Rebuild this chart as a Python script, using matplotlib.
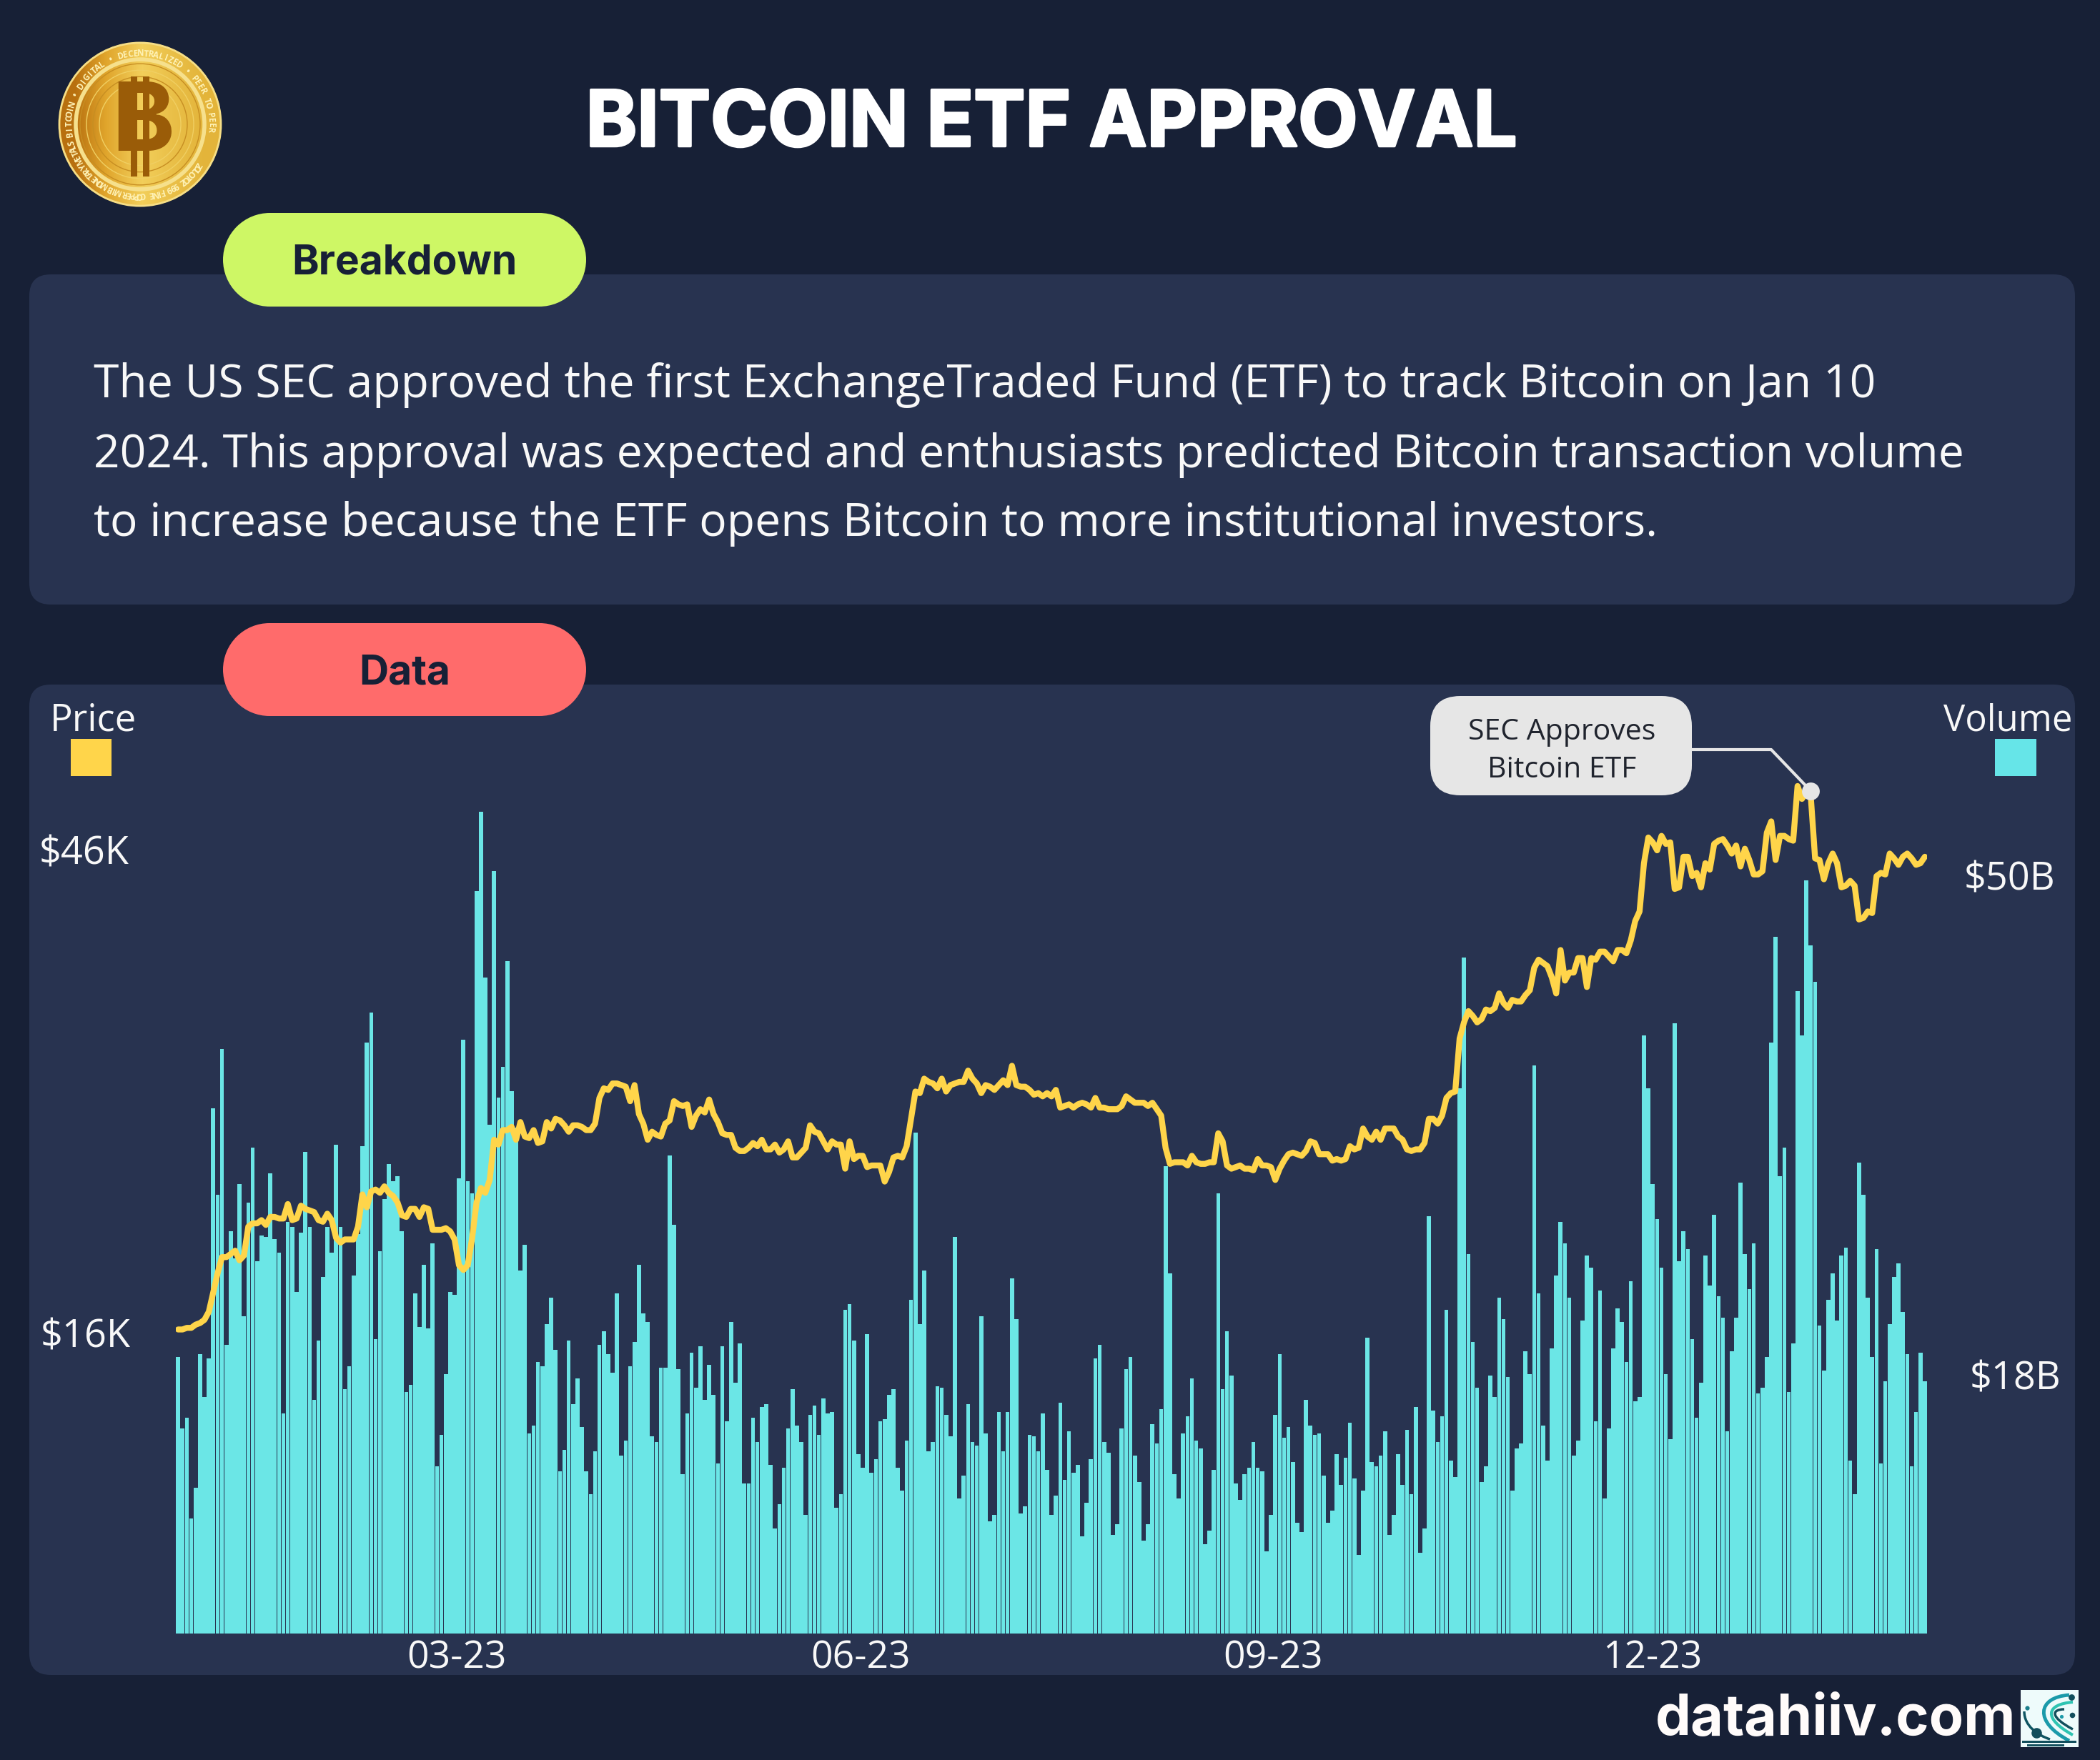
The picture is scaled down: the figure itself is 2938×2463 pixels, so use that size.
import matplotlib
matplotlib.use("Agg")
import matplotlib.pyplot as plt
import matplotlib.patheffects as pe
import numpy as np
from matplotlib.colors import LinearSegmentedColormap
from matplotlib.patches import FancyBboxPatch, Ellipse, Rectangle, PathPatch
from matplotlib.path import Path

W, H = 2938, 2463

# daily volume in $B
volume_b = [
    18.2, 13.5, 14.2, 7.6, 9.6, 18.4, 15.6, 18.1, 34.6, 28.9, 38.5, 19.0, 26.5, 24.7, 29.6, 20.9,
    28.4, 32.0, 24.5, 26.2, 26.1, 30.3, 26.0, 25.1, 14.5, 27.1, 26.8, 22.5, 26.4, 31.7, 26.8, 15.4,
    19.3, 23.5, 26.8, 25.1, 32.2, 26.8, 16.1, 17.6, 23.6, 26.3, 32.1, 38.9, 40.9, 19.4, 25.2, 28.6,
    30.9, 29.8, 30.1, 26.5, 15.9, 16.4, 22.4, 20.2, 24.3, 20.1, 25.7, 11.0, 13.1, 17.1, 22.5, 22.3,
    30.0, 39.1, 29.8, 29.0, 48.9, 54.1, 43.2, 33.5, 50.2, 35.3, 37.3, 44.3, 35.7, 33.3, 23.9, 25.6,
    13.2, 13.7, 17.9, 17.6, 20.4, 22.1, 18.7, 10.7, 12.1, 19.3, 15.1, 16.8, 13.6, 10.7, 9.2, 12.0,
    19.0, 19.9, 18.4, 17.2, 22.4, 11.7, 12.7, 17.6, 19.2, 24.3, 21.1, 20.5, 13.0, 12.6, 17.5,
    17.5, 31.5, 26.9, 17.4, 10.5, 14.5, 18.5, 16.2, 18.9, 15.4, 17.7, 15.7, 11.2, 18.9, 14.0, 20.5,
    16.5, 19.1, 9.9, 9.9, 14.2, 12.6, 14.9, 15.1, 11.1, 6.9, 8.5, 10.9, 13.5, 16.1, 13.7, 12.6,
    7.8, 14.4, 15.0, 13.1, 15.5, 14.5, 14.6, 8.3, 9.2, 21.3, 21.7, 19.3, 11.8, 10.9, 19.7, 10.6,
    11.5, 14.0, 14.1, 15.7, 16.1, 10.9, 9.4, 12.7, 22.0, 33.0, 20.4, 23.9, 12.0, 12.6, 16.3, 16.2,
    14.4, 13.0, 26.1, 8.9, 10.4, 15.1, 12.6, 12.4, 20.9, 13.2, 7.4, 7.8, 14.6, 12.0, 14.6, 23.4,
    20.7, 7.9, 8.4, 13.1, 13.0, 12.0, 14.5, 10.8, 7.8, 9.1, 15.2, 10.1, 13.3, 10.6, 11.1, 6.4,
    8.6, 11.5, 18.1, 19.0, 12.6, 11.9, 6.5, 7.2, 13.5, 17.4, 18.2, 11.7, 10.0, 6.1, 7.2, 13.8, 12.5,
    14.8, 30.8, 23.7, 10.5, 8.9, 13.2, 14.3, 16.8, 12.7, 12.2, 5.9, 6.8, 10.8, 29.0, 16.1, 19.9,
    17.0, 9.9, 8.8, 10.5, 10.9, 12.6, 10.9, 10.7, 5.4, 7.8, 14.4, 18.4, 12.9, 13.6, 11.3, 7.3,
    6.7, 15.4, 13.7, 13.1, 13.2, 10.4, 7.3, 8.1, 11.8, 9.8, 11.6, 13.9, 10.2, 5.2, 9.4, 19.5,
    11.3, 11.0, 11.7, 13.3, 6.5, 7.8, 11.8, 9.8, 13.4, 9.2, 14.9, 5.3, 6.9, 27.5, 14.7, 12.6,
    14.3, 21.3, 11.4, 10.3, 35.9, 44.5, 25.0, 19.2, 16.2, 10.0, 11.0, 17.0, 15.6, 22.1, 20.7, 16.9,
    9.4, 12.2, 12.5, 18.6, 17.1, 37.4, 22.4, 13.7, 11.4, 18.8, 23.6, 27.1, 25.7, 22.1, 11.7, 12.7,
    20.6, 24.9, 24.1, 14.0, 22.6, 8.9, 13.5, 18.8, 21.4, 20.5, 17.9, 23.2, 15.3, 15.6, 39.4, 35.9,
    29.6, 27.3, 24.1, 17.1, 12.8, 40.2, 24.5, 26.5, 25.3, 19.4, 14.2, 16.5, 24.9, 22.9, 27.6, 22.2,
    20.8, 13.3, 18.6, 20.8, 29.7, 25.0, 22.7, 25.7, 15.8, 16.2, 18.2, 38.9, 45.9, 30.1, 32.0, 15.9,
    19.1, 42.3, 39.4, 49.6, 45.3, 42.9, 20.3, 17.3, 22.0, 23.7, 20.6, 24.9, 25.4, 11.4, 9.2, 31.0,
    28.9, 22.1, 18.2, 25.3, 11.2, 16.6, 20.4, 23.5, 24.4, 21.2, 18.4, 11.0, 14.6, 18.5, 16.6,
]

# daily price in $K
price_k = [
    16.2, 16.2, 16.3, 16.3, 16.5, 16.6, 16.8, 17.3, 18.5, 19.7, 20.7, 20.7, 20.9, 21.1, 20.5, 20.8,
    22.6, 22.8, 22.8, 23.0, 22.7, 23.2, 23.2, 23.1, 23.1, 24.0, 23.0, 23.1, 23.9, 23.7, 23.6, 23.5,
    23.0, 22.9, 23.4, 23.0, 21.9, 21.6, 21.8, 21.8, 21.8, 22.6, 24.6, 23.8, 24.8, 24.9, 24.7, 25.1,
    24.7, 24.5, 24.1, 23.3, 23.2, 23.7, 23.7, 23.2, 23.8, 23.7, 22.4, 22.4, 22.4, 22.5, 22.3, 21.8,
    20.2, 19.9, 20.2, 21.9, 24.1, 25.0, 24.7, 25.5, 28.0, 27.7, 28.6, 28.6, 28.8, 28.0, 29.1, 28.2,
    28.1, 28.6, 27.8, 27.9, 29.1, 28.7, 29.3, 29.2, 28.9, 28.5, 28.9, 28.9, 28.8, 28.6, 28.6, 29.0,
    30.6, 31.2, 31.1, 31.5, 31.5, 31.4, 31.3, 30.4, 31.4, 29.6, 29.0, 28.0, 28.5, 28.3, 28.2,
    29.0, 29.2, 30.4, 30.2, 30.1, 30.2, 28.8, 29.5, 29.9, 29.7, 30.5, 29.6, 29.1, 28.4, 28.3, 28.3,
    27.5, 27.3, 27.3, 27.5, 27.8, 27.6, 28.0, 27.4, 27.4, 27.7, 27.2, 27.4, 27.9, 26.9, 26.9, 27.2,
    27.5, 28.9, 28.5, 28.4, 27.9, 27.4, 27.9, 27.7, 27.7, 26.2, 27.9, 26.8, 27.0, 27.0, 26.3, 26.4,
    26.4, 26.4, 25.4, 26.0, 26.9, 27.0, 26.9, 27.6, 29.3, 31.0, 30.9, 31.8, 31.6, 31.5, 31.2, 31.8,
    31.0, 31.4, 31.5, 31.6, 31.6, 32.3, 31.8, 31.5, 30.9, 31.4, 31.3, 31.1, 31.4, 31.7, 31.4, 32.6,
    31.4, 31.3, 31.3, 31.1, 30.8, 30.9, 30.7, 30.9, 30.7, 31.1, 30.0, 30.1, 30.2, 30.0, 30.2, 30.3,
    30.2, 30.0, 30.6, 30.0, 30.0, 29.9, 29.9, 29.9, 30.1, 30.7, 30.5, 30.3, 30.3, 30.3, 30.1, 30.3, 29.9,
    29.5, 27.5, 26.5, 26.6, 26.6, 26.6, 26.4, 27.0, 26.6, 26.5, 26.5, 26.6, 26.6, 28.4, 27.9, 26.4,
    26.2, 26.3, 26.4, 26.2, 26.2, 26.1, 26.8, 26.4, 26.4, 26.3, 25.5, 26.2, 26.7, 27.1, 27.2, 27.1,
    27.0, 27.3, 27.9, 27.8, 27.1, 27.1, 27.1, 26.7, 26.8, 26.7, 26.8, 27.6, 27.4, 27.5, 28.7, 28.2,
    28.0, 28.5, 28.0, 28.7, 28.7, 28.7, 28.2, 28.0, 27.4, 27.3, 27.4, 27.4, 27.8, 29.3, 29.3, 29.0,
    29.5, 30.6, 30.9, 31.0, 34.3, 35.3, 36.0, 35.7, 35.3, 35.5, 36.1, 36.0, 36.2, 37.1, 36.5, 36.2,
    36.7, 36.6, 36.6, 37.0, 37.3, 38.7, 39.2, 39.0, 38.8, 38.1, 37.1, 39.8, 37.9, 38.4, 38.4, 39.3,
    39.3, 37.5, 39.3, 39.2, 39.7, 39.7, 39.4, 39.1, 39.8, 39.8, 39.6,
    40.4, 41.6, 42.2, 45.2, 46.8, 46.5, 46.0, 46.9, 46.4, 46.5, 43.6, 43.7, 45.6, 45.6, 44.4, 44.6,
    43.7, 45.2, 44.8, 46.4, 46.6, 46.7, 46.3, 45.8, 46.3, 45.0, 46.1, 45.4, 44.5, 44.5, 44.7, 47.1,
    47.8, 45.4, 46.9, 46.9, 46.7, 46.6, 50.0, 49.2, 49.6, 49.4, 45.5, 45.4, 44.2, 45.2, 45.8, 45.2,
    43.7, 43.8, 44.1, 43.8, 41.7, 41.8, 42.2, 42.1, 44.4, 44.6, 44.5, 45.8, 45.5, 45.1, 45.6, 45.8,
    45.5, 45.1, 45.2, 45.6,
]

tick_days = [63.5, 155.5, 249.5, 336]
tick_labels = ["03-23", "06-23", "09-23", "12-23"]
etf_day = 372
etf_price = 49.7

BG = "#172036"
PANEL = "#283350"
TEAL = "#6BE6E6"
GOLD = "#FFD54A"
WHITE = "#F8F8F8"
SANS = "Open Sans"

fig = plt.figure(figsize=(W / 100, H / 100), dpi=100, facecolor=BG)

# whole-figure layer in pixel coordinates for panels, pills, text
bg = fig.add_axes([0, 0, 1, 1], zorder=0)


def rbox(ax, x0, y0, x1, y1, r, color, zorder=1):
    ax.add_patch(FancyBboxPatch((x0 + r, y0 + r), x1 - x0 - 2 * r, y1 - y0 - 2 * r,
                                boxstyle=f"round,pad={r},rounding_size={r}",
                                fc=color, ec="none", zorder=zorder))


def pill(ax, x0, y0, x1, y1, color, zorder=2):
    # real half circles at both ends, FancyBboxPatch corners come out too square
    r = (y1 - y0) / 2
    ax.add_patch(Rectangle((x0 + r, y0), x1 - x0 - 2 * r, y1 - y0, fc=color, ec="none", zorder=zorder))
    for cx in (x0 + r, x1 - r):
        ax.add_patch(Ellipse((cx, y0 + r), 2 * r, 2 * r, fc=color, ec="none", zorder=zorder))


rbox(bg, 41, 384, 2903, 846, 30, PANEL)
rbox(bg, 41, 958, 2903, 2344, 30, PANEL)
pill(bg, 312, 298, 820, 429, "#CEF765")
pill(bg, 312, 872, 820, 1002, "#FF6B6B")

title = bg.text(1471, 176, "BITCOIN ETF APPROVAL", color="white", family="Inter", weight="bold",
                fontsize=78, ha="center", va="center")
title.set_path_effects([pe.withStroke(linewidth=2.5, foreground="white")])
bg.text(566, 368, "Breakdown", color=BG, family="Inter", weight="bold", fontsize=41,
        ha="center", va="center", zorder=3)
bg.text(566, 942, "Data", color=BG, family="Inter", weight="bold", fontsize=41,
        ha="center", va="center", zorder=3)

body = ["The US SEC approved the first ExchangeTraded Fund (ETF) to track Bitcoin on Jan 10",
        "2024. This approval was expected and enthusiasts predicted Bitcoin transaction volume",
        "to increase because the ETF opens Bitcoin to more institutional investors."]
for line, y in zip(body, [556, 654, 750]):
    bg.text(131, y, line, color=WHITE, family=SANS, fontsize=46.3, ha="left", va="baseline")

# legend swatches and value labels
bg.text(131, 1009, "Price", color=WHITE, family=SANS, fontsize=38, ha="center", va="center")
bg.text(2809, 1009, "Volume", color=WHITE, family=SANS, fontsize=36.5, ha="center", va="center")
bg.add_patch(Rectangle((99, 1034), 57, 52, fc=GOLD, ec="none"))
bg.add_patch(Rectangle((2791, 1034), 58, 52, fc="#66E5E8", ec="none"))
for s, x, y in [("$46K", 118, 1195), ("$16K", 120, 1871), ("$50B", 2811, 1231), ("$18B", 2819, 1930)]:
    bg.text(x, y, s, color=WHITE, family=SANS, fontsize=39, ha="center", va="center")

# coin
coin_cmap = LinearSegmentedColormap.from_list("coin", ["#B8700F", "#E0A52C", "#F2CE5A", "#E3B43A"])
coin_shade = np.array([[0.0, 0.35, 0.65, 0.85, 1.0]])
coin_clip = Ellipse((196, 174), 228, 230, transform=bg.transData)
coin_im = bg.imshow(coin_shade, extent=(82, 310, 289, 59), cmap=coin_cmap, aspect="auto", zorder=2,
                    interpolation="bilinear")
coin_im.set_clip_path(coin_clip)
for d, c, lw in [(226, "#F6DE86", 2), (180, "#F6E08C", 4), (168, "#C78E22", 1), (150, "#F0CF62", 1),
                 (132, "#C78E22", 1), (114, "#F0CF62", 1)]:
    bg.add_patch(Ellipse((196, 174), d, d * 1.01, fc="none", ec=c, lw=lw, zorder=2))


def ring_text(text, start_deg, end_deg, radius=99):
    # letters run clockwise round the rim of the coin
    for ch, a in zip(text, np.radians(np.linspace(start_deg, end_deg, len(text)))):
        bg.text(196 + radius * np.cos(a), 174 - radius * np.sin(a), ch, color="#FFF3B8",
                family=SANS, weight="bold", fontsize=8.5, ha="center", va="center",
                rotation=np.degrees(a) - 90, zorder=3)


ring_text("BITCOIN \u2022 DIGITAL \u2022 DECENTRALIZED \u2022 PEER TO PEER", 188, -5)
ring_text("ZOLOTOZ 999 FINE COPPER MIB MONETARY METALS", -35, -165)

bg.add_patch(Rectangle((183, 107), 9, 140, fc="#9A5C08", ec="none", zorder=3))
bg.add_patch(Rectangle((200, 107), 9, 140, fc="#9A5C08", ec="none", zorder=3))
bg.text(200, 176, "B", color="#9A5C08", family="Inter", weight="bold", fontsize=96,
        ha="center", va="center", zorder=4)

# footer
bg.text(2568, 2428, "datahiiv.com", color="#FFFBFA", family="Inter", weight="bold", fontsize=57,
        ha="center", va="baseline")
bg.add_patch(Rectangle((2827, 2365), 81, 80, fc="#EEFBFB", ec="none"))
for verts, c, lw in [
    ([(2895, 2372), (2850, 2375), (2845, 2410), (2895, 2436)], "#1B9AAA", 3.5),
    ([(2900, 2382), (2862, 2385), (2858, 2405), (2900, 2428)], "#2FC4B2", 3),
    ([(2888, 2392), (2870, 2392), (2868, 2403), (2900, 2420)], "#124E5C", 2.5),
    ([(2832, 2395), (2832, 2415), (2850, 2428), (2868, 2434)], "#0F5562", 2.5),
]:
    codes = [Path.MOVETO, Path.CURVE4, Path.CURVE4, Path.CURVE4]
    bg.add_patch(PathPatch(Path(verts, codes), fc="none", ec=c, lw=lw, zorder=3))
for x, y, s, c in [(2898, 2375, 40, "#124E5C"), (2849, 2425, 110, "#124E5C"), (2899, 2400, 30, "#124E5C"),
                   (2836, 2390, 20, "#1B7F8C"), (2884, 2402, 14, "#1B9AAA")]:
    bg.scatter(x, y, s=s, color=c, linewidths=0, zorder=4)
bg.add_patch(Rectangle((2829, 2436), 76, 2.5, fc="#124E5C", ec="none", zorder=3))
bg.add_patch(Rectangle((2836, 2441), 52, 2.5, fc="#124E5C", ec="none", zorder=3))

bg.set_xlim(0, W)
bg.set_ylim(H, 0)
bg.axis("off")

# chart
left, right, bottom, top = 246.1, 2696, 2286, 1000
ax_v = fig.add_axes([left / W, 1 - bottom / H, (right - left) / W, (bottom - top) / H], zorder=1)
ax_v.patch.set_visible(False)
days = np.arange(len(volume_b))
ax_v.bar(days, volume_b, width=0.92, color=TEAL, linewidth=0)
ax_v.set_xlim(-0.5, 398.5)
ax_v.set_ylim(0, (bottom - top) / 21.25)
ax_v.set_yticks([])
ax_v.set_xticks(tick_days)
ax_v.set_xticklabels(tick_labels, family=SANS, fontsize=38.5, color=WHITE)
ax_v.tick_params(axis="x", length=0, pad=6)
for s in ax_v.spines.values():
    s.set_visible(False)

ax_p = ax_v.twinx()
ax_p.patch.set_visible(False)
ax_p.plot(np.arange(len(price_k)), price_k, color=GOLD, lw=6, solid_joinstyle="round", solid_capstyle="round")
ax_p.scatter([etf_day], [etf_price], s=320, color="#E6E6E6", linewidths=0, zorder=5)
ax_p.set_ylim(46 - (bottom - 1190) / 22.5, 46 + (1190 - top) / 22.5)
ax_p.set_yticks([])
for s in ax_p.spines.values():
    s.set_visible(False)

# callout, drawn above the chart in pixel coordinates
over = fig.add_axes([0, 0, 1, 1], zorder=3)
over.set_xlim(0, W)
over.set_ylim(H, 0)
over.axis("off")
fig.canvas.draw()
dot_px = over.transData.inverted().transform(ax_p.transData.transform((etf_day, etf_price)))
over.plot([2367, 2478, dot_px[0]], [1049, 1049, dot_px[1]], color="#E6E6E6", lw=3, zorder=1)
rbox(over, 2001, 974, 2367, 1113, 42, "#E6E6E6", 2)
over.text(2185, 1025, "SEC Approves", color="#20242E", family=SANS, fontsize=29.5, ha="center", va="center", zorder=3)
over.text(2185, 1078, "Bitcoin ETF", color="#20242E", family=SANS, fontsize=29.5, ha="center", va="center", zorder=3)

fig.savefig("out.png", dpi=100, facecolor=BG)
